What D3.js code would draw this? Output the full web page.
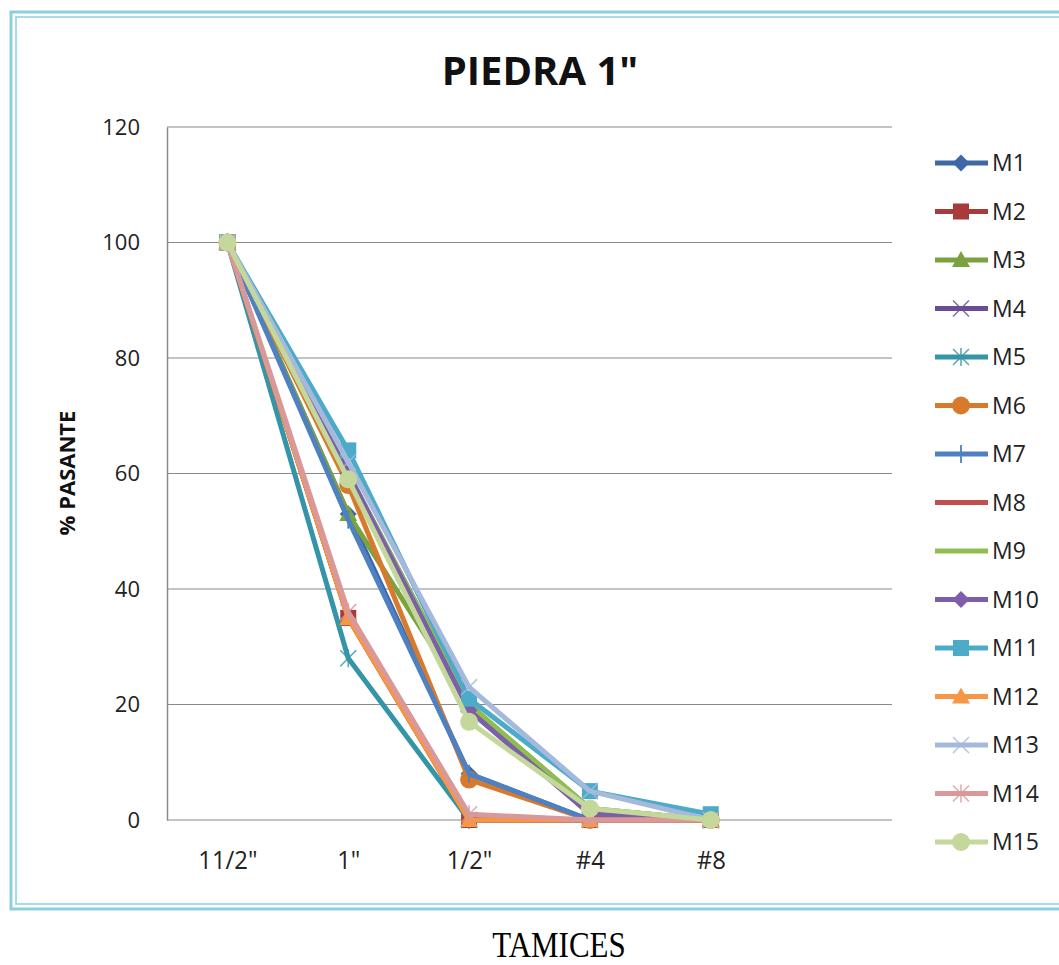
<!DOCTYPE html>
<html>
<head>
<meta charset="utf-8">
<script src="https://cdn.jsdelivr.net/npm/d3@7"></script>
<style>
  html, body { margin: 0; padding: 0; background: #fff; }
  svg { display: block; }
</style>
</head>
<body>
<svg id="chart" width="1059" height="965"></svg>
<script>
// Sieve categories (the last slot is left empty, as in the original sheet)
const sieves = ['11/2"', '1"', '1/2"', '#4', '#8', ''];
const yTicks = [0, 20, 40, 60, 80, 100, 120];

// % passing for each sample
const M1  = [100, 53, 8, 0, 0];
const M2  = [100, 35, 0, 0, 0];
const M3  = [100, 53, 20, 2, 0];
const M4  = [100, 60, 20, 1, 0];
const M5  = [100, 28, 0, 0, 0];
const M6  = [100, 58, 7, 0, 0];
const M7  = [100, 52, 8, 0, 0];
const M8  = [100, 35, 0, 0, 0];
const M9  = [100, 60, 20, 2, 0];
const M10 = [100, 60, 19, 1, 0];
const M11 = [100, 64, 21, 5, 1];
const M12 = [100, 35, 0, 0, 0];
const M13 = [100, 62, 23, 5, 0];
const M14 = [100, 36, 1, 0, 0];
const M15 = [100, 59, 17, 2, 0];

const seriesNames = ["M1","M2","M3","M4","M5","M6","M7","M8","M9","M10","M11","M12","M13","M14","M15"];
const seriesValues = [M1,M2,M3,M4,M5,M6,M7,M8,M9,M10,M11,M12,M13,M14,M15];
const seriesColors = ["#3c68a8","#a83b39","#7aa23e","#6a4e93","#3595a8","#d87a2c","#4e80c2","#c0504d",
                      "#8fbd4f","#7b5fa8","#4babc8","#f79646","#a5b9dc","#d9999a","#c4d89c"];
const seriesMarkers = ["diamond","square","triangle","x","star","circle","plus","none",
                       "none","diamond","square","triangle","x","star","circle"];

const svg = d3.select("#chart");

// Outer double frame (the right side runs off the page)
svg.append("rect").attr("x", 11).attr("y", 12).attr("width", 1080).attr("height", 897)
  .attr("fill", "none").attr("stroke", "#8bcfe0").attr("stroke-width", 3);
svg.append("rect").attr("x", 16).attr("y", 17).attr("width", 1080).attr("height", 887)
  .attr("fill", "none").attr("stroke", "#8bcfe0").attr("stroke-width", 1.5);

const plot = { left: 167, right: 892, top: 127, bottom: 820 };

const x = d3.scalePoint().domain(sieves).range([plot.left, plot.right]).padding(0.5);
const y = d3.scaleLinear().domain([0, 120]).range([plot.bottom, plot.top]);

// Horizontal gridlines
svg.append("g").selectAll("line").data(yTicks).join("line")
  .attr("x1", plot.left).attr("x2", plot.right)
  .attr("y1", d => y(d)).attr("y2", d => y(d))
  .attr("stroke", "#8a8a8a").attr("stroke-width", 1.2);

// Value axis
const yAxis = svg.append("g").attr("transform", `translate(${plot.left},0)`)
  .call(d3.axisLeft(y).tickValues(yTicks).tickSize(0).tickPadding(27));
yAxis.select(".domain").attr("stroke", "#8a8a8a").attr("stroke-width", 1.5);
yAxis.selectAll("text").attr("font-family", "'Open Sans', sans-serif").attr("font-size", 22)
  .attr("fill", "#222");

// Category axis
const xAxis = svg.append("g").attr("transform", `translate(0,${plot.bottom})`)
  .call(d3.axisBottom(x).tickSize(0).tickPadding(31));
xAxis.select(".domain").remove();
xAxis.selectAll("text").attr("font-family", "'Open Sans', sans-serif")
  .attr("font-size", 26).attr("fill", "#222").attr("transform", "scale(0.92,1)");

// Title
svg.append("text").attr("x", 540).attr("y", 85).attr("text-anchor", "middle")
  .attr("font-family", "'Open Sans', sans-serif").attr("font-weight", "bold")
  .attr("font-size", 40).attr("fill", "#111").text('PIEDRA 1"');

// Value axis title
svg.append("text").attr("transform", "translate(75,473) rotate(-90)").attr("text-anchor", "middle")
  .attr("font-family", "'Open Sans', sans-serif").attr("font-weight", "bold")
  .attr("font-size", 22).attr("fill", "#111").text("% PASANTE");

// Caption under the frame
svg.append("text").attr("transform", "translate(559,957) scale(0.86,1)").attr("text-anchor", "middle")
  .attr("font-family", "'Liberation Serif', serif").attr("font-size", 36)
  .attr("fill", "#000").text("TAMICES");

// Marker drawing
function drawMarker(g, type, cx, cy, color) {
  const s = 8.5;
  if (type === "diamond") {
    g.append("path").attr("d", `M${cx},${cy - s} L${cx + s},${cy} L${cx},${cy + s} L${cx - s},${cy} Z`)
      .attr("fill", color);
  } else if (type === "square") {
    g.append("rect").attr("x", cx - 8).attr("y", cy - 8).attr("width", 16).attr("height", 16)
      .attr("fill", color);
  } else if (type === "triangle") {
    g.append("path").attr("d", `M${cx},${cy - 9} L${cx + 9},${cy + 7} L${cx - 9},${cy + 7} Z`)
      .attr("fill", color);
  } else if (type === "circle") {
    g.append("circle").attr("cx", cx).attr("cy", cy).attr("r", 9).attr("fill", color);
  } else if (type === "x" || type === "star") {
    const a = 8;
    g.append("path").attr("d", `M${cx - a},${cy - a} L${cx + a},${cy + a} M${cx - a},${cy + a} L${cx + a},${cy - a}`)
      .attr("stroke", color).attr("stroke-width", 1.6).attr("fill", "none").attr("opacity", 0.8);
    if (type === "star") {
      g.append("path").attr("d", `M${cx},${cy - 9} L${cx},${cy + 9}`)
        .attr("stroke", color).attr("stroke-width", 1.6).attr("opacity", 0.8);
    }
  } else if (type === "plus") {
    g.append("path").attr("d", `M${cx},${cy - 9} L${cx},${cy + 9}`)
      .attr("stroke", color).attr("stroke-width", 1.8);
  }
}

// Series lines and markers
const line = d3.line().x((d, i) => x(sieves[i])).y(d => y(d));
const seriesG = svg.append("g");
seriesNames.forEach((name, k) => {
  const g = seriesG.append("g");
  g.append("path").datum(seriesValues[k]).attr("d", line)
    .attr("fill", "none").attr("stroke", seriesColors[k]).attr("stroke-width", 5)
    .attr("stroke-linejoin", "round").attr("stroke-linecap", "round");
  seriesValues[k].forEach((v, i) => drawMarker(g, seriesMarkers[k], x(sieves[i]), y(v), seriesColors[k]));
});

// Legend
const legend = svg.append("g");
const legendRow = d3.scaleLinear().domain([0, 14]).range([163, 842]);
seriesNames.forEach((name, k) => {
  const ly = legendRow(k);
  const g = legend.append("g");
  g.append("line").attr("x1", 935).attr("x2", 988).attr("y1", ly).attr("y2", ly)
    .attr("stroke", seriesColors[k]).attr("stroke-width", 5);
  drawMarker(g, seriesMarkers[k], 961, ly, seriesColors[k]);
  g.append("text").attr("x", 992).attr("y", ly + 8).attr("font-family", "'Open Sans', sans-serif")
    .attr("font-size", 23).attr("fill", "#222").text(name);
});
</script>
</body>
</html>
